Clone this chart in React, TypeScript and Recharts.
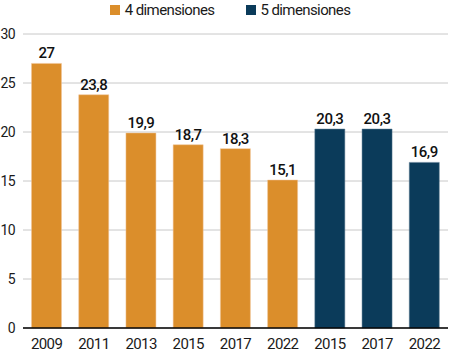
import { BarChart, Bar, XAxis, YAxis, CartesianGrid, Legend, LabelList } from "recharts"

const categories = ["2009", "2011", "2013", "2015", "2017", "2022", "2015", "2017", "2022"]
const fourDims = [27, 23.8, 19.9, 18.7, 18.3, 15.1, null, null, null]
const fiveDims = [null, null, null, null, null, null, 20.3, 20.3, 16.9]
const yTicks = [0, 5, 10, 15, 20, 25, 30]

const ORANGE = "#DB8E2B"
const NAVY = "#0B3B5A"
const FONT = "Roboto, 'Liberation Sans', sans-serif"

const data = categories.map((year, i) => ({
  key: `${year}-${i}`,
  year,
  four: fourDims[i],
  five: fiveDims[i],
}))

const fmt = (v: any) => (v == null ? "" : String(v).replace(".", ","))

const legendItems = [
  { label: "4 dimensiones", color: ORANGE },
  { label: "5 dimensiones", color: NAVY },
]

function TopLegend() {
  return (
    <div style={{ display: "flex", justifyContent: "center", gap: 31, paddingLeft: 12 }}>
      {legendItems.map((it) => (
        <div key={it.label} style={{ display: "flex", alignItems: "center", fontFamily: FONT, fontSize: 15, letterSpacing: -0.6, color: "#1a1a1a" }}>
          <span style={{ display: "inline-block", width: 10, height: 10, background: it.color, marginRight: 5 }} />
          {it.label}
        </div>
      ))}
    </div>
  )
}

export default function App() {
  return (
    <div style={{ position: "absolute", left: 0, top: 0, fontFamily: FONT }}>
      <BarChart
        width={449}
        height={354}
        data={data}
        barCategoryGap="18%"
        margin={{ top: 16, right: 1, left: 0, bottom: 2 }}
      >
        <CartesianGrid vertical={false} stroke="#c8c8c8" strokeWidth={1} />
        <XAxis
          dataKey="key"
          tickFormatter={(k: string) => k.split("-")[0]}
          tickLine={false}
          axisLine={{ stroke: "#000", strokeWidth: 1.5 }}
          tick={{ fill: "#1a1a1a", fontSize: 15, fontFamily: FONT, letterSpacing: -0.6 }}
          tickMargin={4}
          height={24}
          interval={0}
        />
        <YAxis
          domain={[0, 30]}
          ticks={yTicks}
          tickLine={false}
          axisLine={false}
          width={23}
          tick={{ fill: "#1a1a1a", fontSize: 14, fontFamily: FONT, letterSpacing: -0.6 }}
        />
        <Legend verticalAlign="top" height={18} wrapperStyle={{ top: 1 }} content={() => <TopLegend />} />
        <Bar dataKey="four" name="4 dimensiones" stackId="a" fill={ORANGE} stroke="#f0c49a" strokeWidth={0.5} isAnimationActive={false}>
          <LabelList dataKey="four" position="top" formatter={fmt} fill="#111" fontSize={15} fontWeight={500} fontFamily={FONT} letterSpacing={-0.5} />
        </Bar>
        <Bar dataKey="five" name="5 dimensiones" stackId="a" fill={NAVY} stroke="#5a7890" strokeWidth={0.5} isAnimationActive={false}>
          <LabelList dataKey="five" position="top" formatter={fmt} fill="#111" fontSize={15} fontWeight={500} fontFamily={FONT} letterSpacing={-0.5} />
        </Bar>
      </BarChart>
    </div>
  )
}
